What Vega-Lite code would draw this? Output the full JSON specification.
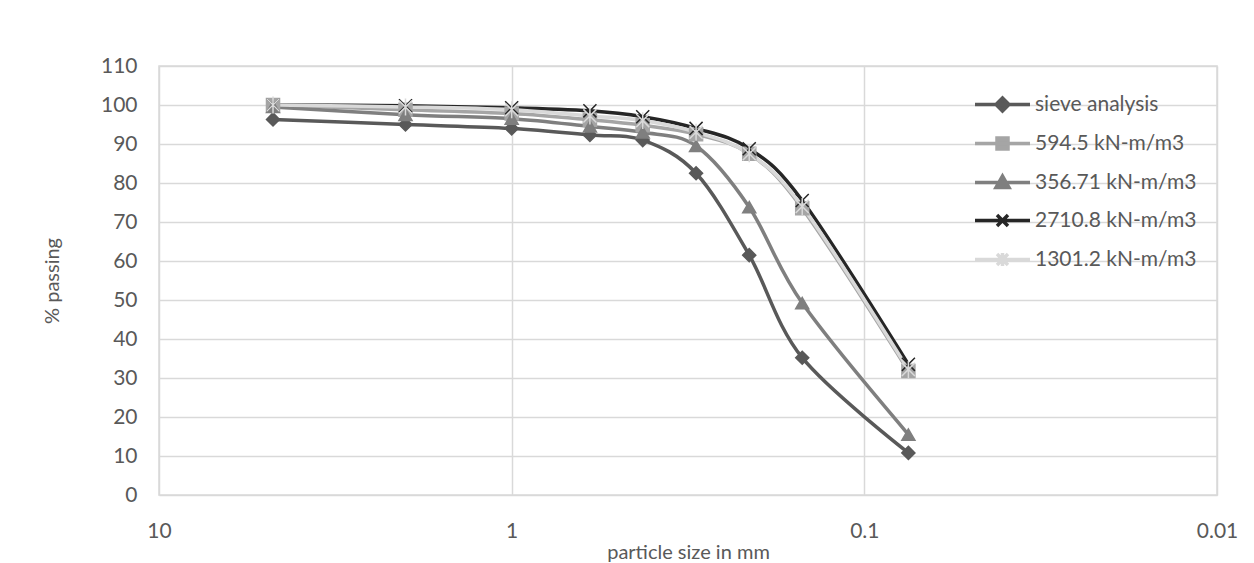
{
  "$schema": "https://vega.github.io/schema/vega-lite/v6.json",
  "autosize": "none",
  "width": 1058,
  "height": 429,
  "padding": {"left": 159, "top": 66, "right": 37, "bottom": 68},
  "background": "white",
  "config": {
    "font": "Lato",
    "view": {"stroke": "#D9D9D9", "strokeWidth": 1.5},
    "axis": {
      "labelFont": "Lato", "labelFontSize": 21, "labelColor": "#595959",
      "titleFont": "Lato", "titleFontSize": 20, "titleColor": "#595959", "titleFontWeight": "normal",
      "gridColor": "#D9D9D9", "gridWidth": 1.5, "domain": false, "ticks": false
    }
  },
  "data": {"values": [
    {"size": 4.75, "series": "sieve analysis", "passing": 96.3},
    {"size": 2.0, "series": "sieve analysis", "passing": 95.0},
    {"size": 1.0, "series": "sieve analysis", "passing": 94.0},
    {"size": 0.6, "series": "sieve analysis", "passing": 92.3},
    {"size": 0.425, "series": "sieve analysis", "passing": 91.0},
    {"size": 0.3, "series": "sieve analysis", "passing": 82.5},
    {"size": 0.212, "series": "sieve analysis", "passing": 61.5},
    {"size": 0.15, "series": "sieve analysis", "passing": 35.2},
    {"size": 0.075, "series": "sieve analysis", "passing": 10.8},
    {"size": 4.75, "series": "594.5 kN-m/m3", "passing": 100.0},
    {"size": 2.0, "series": "594.5 kN-m/m3", "passing": 98.8},
    {"size": 1.0, "series": "594.5 kN-m/m3", "passing": 97.8},
    {"size": 0.6, "series": "594.5 kN-m/m3", "passing": 96.2},
    {"size": 0.425, "series": "594.5 kN-m/m3", "passing": 94.8},
    {"size": 0.3, "series": "594.5 kN-m/m3", "passing": 92.5},
    {"size": 0.212, "series": "594.5 kN-m/m3", "passing": 87.5},
    {"size": 0.15, "series": "594.5 kN-m/m3", "passing": 73.5},
    {"size": 0.075, "series": "594.5 kN-m/m3", "passing": 31.8},
    {"size": 4.75, "series": "356.71 kN-m/m3", "passing": 99.5},
    {"size": 2.0, "series": "356.71 kN-m/m3", "passing": 97.5},
    {"size": 1.0, "series": "356.71 kN-m/m3", "passing": 96.5},
    {"size": 0.6, "series": "356.71 kN-m/m3", "passing": 94.5},
    {"size": 0.425, "series": "356.71 kN-m/m3", "passing": 93.0},
    {"size": 0.3, "series": "356.71 kN-m/m3", "passing": 89.5},
    {"size": 0.212, "series": "356.71 kN-m/m3", "passing": 73.8},
    {"size": 0.15, "series": "356.71 kN-m/m3", "passing": 49.2},
    {"size": 0.075, "series": "356.71 kN-m/m3", "passing": 15.5},
    {"size": 4.75, "series": "2710.8 kN-m/m3", "passing": 100.0},
    {"size": 2.0, "series": "2710.8 kN-m/m3", "passing": 99.8},
    {"size": 1.0, "series": "2710.8 kN-m/m3", "passing": 99.3},
    {"size": 0.6, "series": "2710.8 kN-m/m3", "passing": 98.5},
    {"size": 0.425, "series": "2710.8 kN-m/m3", "passing": 97.0},
    {"size": 0.3, "series": "2710.8 kN-m/m3", "passing": 94.0},
    {"size": 0.212, "series": "2710.8 kN-m/m3", "passing": 88.8},
    {"size": 0.15, "series": "2710.8 kN-m/m3", "passing": 75.5},
    {"size": 0.075, "series": "2710.8 kN-m/m3", "passing": 33.5},
    {"size": 4.75, "series": "1301.2 kN-m/m3", "passing": 100.0},
    {"size": 2.0, "series": "1301.2 kN-m/m3", "passing": 99.5},
    {"size": 1.0, "series": "1301.2 kN-m/m3", "passing": 98.8},
    {"size": 0.6, "series": "1301.2 kN-m/m3", "passing": 97.2},
    {"size": 0.425, "series": "1301.2 kN-m/m3", "passing": 96.0},
    {"size": 0.3, "series": "1301.2 kN-m/m3", "passing": 93.0},
    {"size": 0.212, "series": "1301.2 kN-m/m3", "passing": 87.5},
    {"size": 0.15, "series": "1301.2 kN-m/m3", "passing": 74.0},
    {"size": 0.075, "series": "1301.2 kN-m/m3", "passing": 32.2}
  ]},
  "encoding": {
    "x": {
      "field": "size", "type": "quantitative",
      "scale": {"type": "log", "domain": [0.01, 10], "reverse": true, "nice": false},
      "axis": {"values": [10, 1, 0.1, 0.01], "format": "~g", "title": "particle size in mm", "labelPadding": 25, "titlePadding": 1, "labelFlush": false, "labelOverlap": false}
    },
    "y": {
      "field": "passing", "type": "quantitative",
      "scale": {"domain": [0, 110], "nice": false},
      "axis": {"values": [0,10,20,30,40,50,60,70,80,90,100,110], "title": "% passing", "labelPadding": 22, "titlePadding": 38}
    }
  },
  "layer": [
    {
      "mark": {"type": "line", "interpolate": "cardinal", "strokeWidth": 3.5},
      "encoding": {
        "color": {
          "field": "series", "type": "nominal",
          "scale": {
            "domain": ["sieve analysis", "594.5 kN-m/m3", "356.71 kN-m/m3", "2710.8 kN-m/m3", "1301.2 kN-m/m3"],
            "range": ["#595959", "#A5A5A5", "#7F7F7F", "#262626", "#D9D9D9"]
          },
          "legend": {
            "orient": "none", "legendX": 833, "legendY": 28, "title": null,
            "symbolSize": 100, "labelOffset": 22, "rowPadding": 13, "padding": 0,
            "labelFont": "Lato", "labelFontSize": 21, "labelColor": "#595959", "labelLimit": 400,
            "symbolStrokeWidth": 3.5,
            "encode": {"symbols": {"update": {
              "shape": {"signal": "datum.value === 'sieve analysis' ? 'M-5.5,0L5.5,0M0,-1.3L1.3,0L0,1.3L-1.3,0Z' : datum.value === '594.5 kN-m/m3' ? 'M-5.5,0L5.5,0M-1.1,-1.1L1.1,-1.1L1.1,1.1L-1.1,1.1Z' : datum.value === '356.71 kN-m/m3' ? 'M-5.5,0L5.5,0M0,-1.3L1.3,1.0L-1.3,1.0Z' : datum.value === '2710.8 kN-m/m3' ? 'M-5.5,0L5.5,0M-1.1,-1.1L1.1,1.1M-1.1,1.1L1.1,-1.1' : 'M-5.5,0L5.5,0M-1.1,-1.1L1.1,1.1M-1.1,1.1L1.1,-1.1M0,-1.3L0,1.3'"},
              "fill": {"signal": "scale('color', datum.value)"}
            }}}
          }
        }
      }
    },
    {
      "mark": {"type": "point", "filled": true, "opacity": 1, "strokeWidth": 1.5},
      "encoding": {
        "shape": {
          "field": "series", "type": "nominal", "legend": null,
          "scale": {
            "domain": ["1301.2 kN-m/m3", "2710.8 kN-m/m3", "356.71 kN-m/m3", "594.5 kN-m/m3", "sieve analysis"],
            "range": ["M-1,-1L1,1M-1,1L1,-1M0,-1.3L0,1.3", "M-1,-1L1,1M-1,1L1,-1", "triangle-up", "square", "diamond"]
          }
        },
        "size": {
          "field": "series", "type": "nominal", "legend": null,
          "scale": {
            "domain": ["1301.2 kN-m/m3", "2710.8 kN-m/m3", "356.71 kN-m/m3", "594.5 kN-m/m3", "sieve analysis"],
            "range": [170, 170, 160, 130, 170]
          }
        },
        "fill": {
          "field": "series", "type": "nominal", "legend": null,
          "scale": {
            "domain": ["1301.2 kN-m/m3", "2710.8 kN-m/m3", "356.71 kN-m/m3", "594.5 kN-m/m3", "sieve analysis"],
            "range": ["#D9D9D9", "#262626", "#7F7F7F", "#A5A5A5", "#595959"]
          }
        },
        "stroke": {
          "field": "series", "type": "nominal", "legend": null,
          "scale": {
            "domain": ["1301.2 kN-m/m3", "2710.8 kN-m/m3", "356.71 kN-m/m3", "594.5 kN-m/m3", "sieve analysis"],
            "range": ["#D9D9D9", "#262626", "#7F7F7F", "#A5A5A5", "#595959"]
          }
        }
      }
    }
  ]
}
